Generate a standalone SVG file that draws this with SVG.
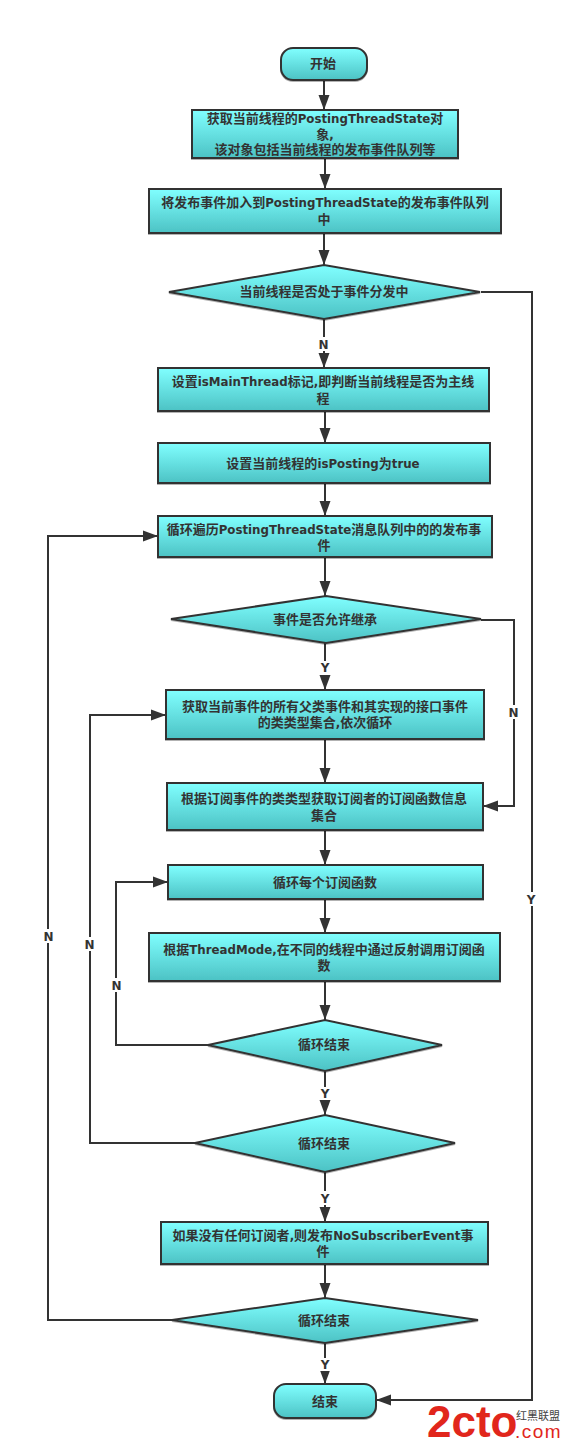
<svg xmlns="http://www.w3.org/2000/svg" width="563" height="1449" viewBox="0 0 563 1449">
<style>
text{font-family:"Noto Sans CJK SC","DejaVu Sans",sans-serif;font-size:13px;font-weight:700;fill:#333;text-anchor:middle}
.l{font-family:"DejaVu Sans",sans-serif;font-size:11.800px}
.n{fill:url(#g);stroke:#333;stroke-width:2;filter:url(#s)}
.c{fill:none;stroke:#333;stroke-width:2;marker-end:url(#a)}
.lb{font-family:"DejaVu Sans",sans-serif;font-size:12px}
.bg{fill:#fff}
</style>
<defs>
<linearGradient id="g" x1="0" y1="0" x2="0" y2="1"><stop offset="0" stop-color="#80ffff"/><stop offset="1" stop-color="#4cc2c4"/></linearGradient>
<marker id="a" markerUnits="userSpaceOnUse" markerWidth="16" markerHeight="12" refX="15" refY="6" orient="auto"><path d="M0 0.5L15 6L0 11.5Z" fill="#333"/></marker>
<filter id="s" x="-5%" y="-5%" width="110%" height="115%"><feDropShadow dx="0" dy="1" stdDeviation="0.5" flood-color="#000" flood-opacity="0.3"/></filter>
</defs>
<g id="connectors">
<path class="c" d="M324 80V110"/>
<path class="c" d="M325 158V189"/>
<path class="c" d="M324 233V265"/>
<path class="c" d="M324 319V368"/>
<path class="c" d="M325 411V443"/>
<path class="c" d="M325 483V516"/>
<path class="c" d="M325 557V596"/>
<path class="c" d="M325 643V690"/>
<path class="c" d="M325 739V783"/>
<path class="c" d="M325 830V865"/>
<path class="c" d="M325 899V933"/>
<path class="c" d="M325 981V1020"/>
<path class="c" d="M325 1071V1115"/>
<path class="c" d="M325 1172V1222"/>
<path class="c" d="M325 1264V1298"/>
<path class="c" d="M325 1343V1384"/>
<path class="c" d="M481 292H532V1400H376"/>
<path class="c" d="M481 620H514V806H483"/>
<path class="c" d="M208 1045H116V882H168"/>
<path class="c" d="M195 1143H90V715H166"/>
<path class="c" d="M172 1320H48V536H158"/>
<g id="labels">
<rect class="bg" x="317" y="337" width="13" height="14"/><text class="lb" x="323.500" y="349">N</text>
<rect class="bg" x="319" y="661" width="12" height="14"/><text class="lb" x="325" y="672">Y</text>
<rect class="bg" x="507" y="705" width="13" height="14"/><text class="lb" x="513.500" y="717">N</text>
<rect class="bg" x="525" y="892" width="12" height="14"/><text class="lb" x="531" y="904">Y</text>
<rect class="bg" x="42" y="929" width="13" height="14"/><text class="lb" x="48.500" y="941">N</text>
<rect class="bg" x="83" y="937" width="13" height="14"/><text class="lb" x="89.500" y="949">N</text>
<rect class="bg" x="110" y="978" width="13" height="14"/><text class="lb" x="116.500" y="990">N</text>
<rect class="bg" x="319" y="1087" width="12" height="13"/><text class="lb" x="325" y="1098">Y</text>
<rect class="bg" x="319" y="1191" width="12" height="14"/><text class="lb" x="325" y="1203">Y</text>
<rect class="bg" x="319" y="1358" width="12" height="13"/><text class="lb" x="325" y="1369">Y</text>
</g>
</g>
<g id="start"><rect class="n" x="281" y="48" width="86" height="32" rx="12"/><text x="323" y="68">开始</text></g>
<g id="n1"><rect class="n" x="192" y="110" width="266" height="48"/>
<text x="325" y="123">获取当前线程的<tspan class="l">PostingThreadState</tspan>对</text><text x="325" y="139">象<tspan class="l">,</tspan></text><text x="325" y="154">该对象包括当前线程的发布事件队列等</text></g>
<g id="n2"><rect class="n" x="149" y="189" width="352" height="44"/>
<text x="325" y="207">将发布事件加入到<tspan class="l">PostingThreadState</tspan>的发布事件队列</text><text x="324" y="224">中</text></g>
<g id="d1"><polygon class="n" points="169,292 324,265 480,292 324,319"/><text x="324" y="296">当前线程是否处于事件分发中</text></g>
<g id="n3"><rect class="n" x="158" y="368" width="331" height="43"/>
<text x="323" y="386">设置<tspan class="l">isMainThread</tspan>标记<tspan class="l">,</tspan>即判断当前线程是否为主线</text><text x="323" y="403">程</text></g>
<g id="n4"><rect class="n" x="158" y="443" width="332" height="40"/><text x="323" y="468">设置当前线程的<tspan class="l">isPosting</tspan>为<tspan class="l">true</tspan></text></g>
<g id="n5"><rect class="n" x="158" y="516" width="334" height="41"/>
<text x="324" y="534">循环遍历<tspan class="l">PostingThreadState</tspan>消息队列中的的发布事</text><text x="324" y="550">件</text></g>
<g id="d2"><polygon class="n" points="171,619 326,596 481,619 326,643"/><text x="325" y="624">事件是否允许继承</text></g>
<g id="n6"><rect class="n" x="166" y="690" width="318" height="49"/>
<text x="325" y="711">获取当前事件的所有父类事件和其实现的接口事件</text><text x="325" y="727">的类类型集合<tspan class="l">,</tspan>依次循环</text></g>
<g id="n7"><rect class="n" x="167" y="783" width="316" height="47"/>
<text x="324" y="803">根据订阅事件的类类型获取订阅者的订阅函数信息</text><text x="324" y="820">集合</text></g>
<g id="n8"><rect class="n" x="168" y="865" width="315" height="34"/><text x="325" y="887">循环每个订阅函数</text></g>
<g id="n9"><rect class="n" x="149" y="933" width="351" height="48"/>
<text x="324" y="954">根据<tspan class="l">ThreadMode,</tspan>在不同的线程中通过反射调用订阅函</text><text x="324" y="970">数</text></g>
<g id="d3"><polygon class="n" points="208,1045 325,1020 442,1045 325,1071"/><text x="324" y="1049">循环结束</text></g>
<g id="d4"><polygon class="n" points="195,1143 325,1115 455,1143 325,1172"/><text x="324" y="1148">循环结束</text></g>
<g id="n10"><rect class="n" x="161" y="1222" width="327" height="42"/>
<text x="323" y="1240">如果没有任何订阅者<tspan class="l">,</tspan>则发布<tspan class="l">NoSubscriberEvent</tspan>事</text><text x="323" y="1256">件</text></g>
<g id="d5"><polygon class="n" points="172,1320 325,1298 478,1320 325,1343"/><text x="324" y="1325">循环结束</text></g>
<g id="end"><rect class="n" x="274" y="1384" width="102" height="34" rx="12"/><text x="325" y="1406">结束</text></g>
<g id="watermark">
<text x="427" y="1437" style="font-family:'Liberation Sans',sans-serif;font-size:44px;font-weight:700;fill:#e1261c;text-anchor:start">2cto</text>
<text x="515" y="1438" style="font-family:'Liberation Sans',sans-serif;font-size:19px;letter-spacing:1.500px;font-weight:400;fill:#e1261c;text-anchor:start">.com</text>
<text x="516" y="1420" style="font-size:11px;font-weight:400;fill:#444;text-anchor:start">红黑联盟</text>
</g>
</svg>
